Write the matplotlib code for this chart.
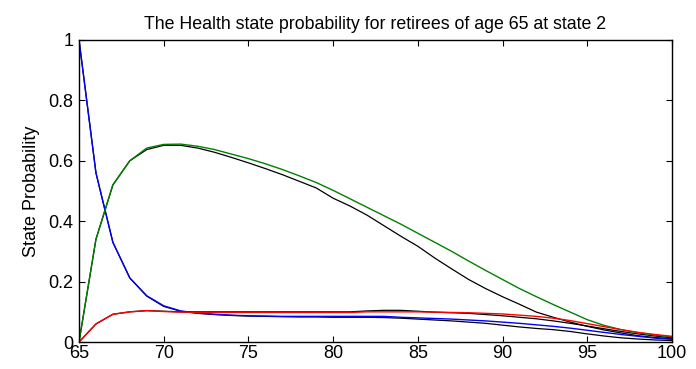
import numpy as np
import matplotlib
matplotlib.use("Agg")
import matplotlib.pyplot as plt

plt.rcParams['font.family'] = ['Liberation Sans', 'DejaVu Sans']

age = np.arange(65, 101)

# model 1 (coloured)
healthy = [1.0, 0.56, 0.33, 0.212, 0.153, 0.12, 0.103, 0.096, 0.092, 0.089,
           0.087, 0.086, 0.085, 0.085, 0.085, 0.085, 0.085, 0.085, 0.085, 0.082,
           0.080, 0.078, 0.076, 0.073, 0.070, 0.066, 0.062, 0.057, 0.052, 0.046,
           0.039, 0.032, 0.025, 0.019, 0.013, 0.009]
state2 = [0.0, 0.34, 0.52, 0.60, 0.642, 0.654, 0.655, 0.648, 0.637, 0.622,
          0.607, 0.59, 0.571, 0.55, 0.528, 0.502, 0.474, 0.446, 0.418, 0.39,
          0.36, 0.33, 0.30, 0.268, 0.237, 0.207, 0.177, 0.15, 0.124, 0.099,
          0.074, 0.055, 0.041, 0.031, 0.023, 0.017]
state3 = [0.0, 0.06, 0.092, 0.1, 0.104, 0.101, 0.099, 0.098, 0.098, 0.098,
          0.098, 0.098, 0.098, 0.098, 0.098, 0.098, 0.098, 0.1, 0.1, 0.1,
          0.1, 0.099, 0.098, 0.097, 0.095, 0.093, 0.089, 0.085, 0.079, 0.071,
          0.061, 0.051, 0.041, 0.032, 0.025, 0.019]

# model 2 (black)
healthy_b = [1.0, 0.56, 0.33, 0.212, 0.152, 0.118, 0.102, 0.095, 0.091, 0.088,
             0.086, 0.085, 0.084, 0.083, 0.083, 0.082, 0.082, 0.082, 0.081, 0.079,
             0.076, 0.073, 0.07, 0.066, 0.062, 0.056, 0.05, 0.045, 0.041, 0.035,
             0.027, 0.02, 0.014, 0.01, 0.007, 0.005]
state2_b = [0.0, 0.34, 0.52, 0.60, 0.637, 0.651, 0.651, 0.642, 0.628, 0.611,
            0.593, 0.574, 0.554, 0.532, 0.51, 0.476, 0.45, 0.42, 0.385, 0.35,
            0.317, 0.278, 0.242, 0.207, 0.177, 0.15, 0.125, 0.099, 0.082, 0.066,
            0.052, 0.04, 0.03, 0.021, 0.015, 0.011]
state3_b = [0.0, 0.06, 0.092, 0.1, 0.104, 0.102, 0.1, 0.1, 0.1, 0.1,
            0.1, 0.1, 0.1, 0.1, 0.1, 0.1, 0.1, 0.103, 0.105, 0.105,
            0.102, 0.099, 0.097, 0.095, 0.091, 0.087, 0.082, 0.077, 0.07, 0.062,
            0.053, 0.044, 0.035, 0.027, 0.02, 0.014]

fig = plt.figure(figsize=(6.96, 3.69), dpi=100)
ax = fig.add_axes([0.1135, 0.073, 0.852, 0.819])

for s in (healthy_b, state2_b, state3_b):
    ax.plot(age, s, color='black', lw=0.9)
ax.plot(age, healthy, color='#0000ff', lw=1.0)
ax.plot(age, state2, color='#008000', lw=1.0)
ax.plot(age, state3, color='#ff0000', lw=1.0)

ax.set_xlim(65, 100)
ax.set_ylim(0, 1)
ax.set_xticks(np.arange(65, 101, 5))
ax.set_yticks([0, 0.2, 0.4, 0.6, 0.8, 1])
ax.set_yticklabels(['0', '0.2', '0.4', '0.6', '0.8', '1'])
ax.tick_params(direction='in', top=True, right=True, labelsize=13, length=4, width=0.8)
ax.tick_params(axis='x', pad=2)
ax.tick_params(axis='y', pad=4)
for sp in ax.spines.values():
    sp.set_linewidth(1.0)
ax.set_ylabel('State Probability', fontsize=13, labelpad=6)
ax.set_title('The Health state probability for retirees of age 65 at state 2', fontsize=12.8, pad=8)

fig.savefig('out.png', dpi=100)
